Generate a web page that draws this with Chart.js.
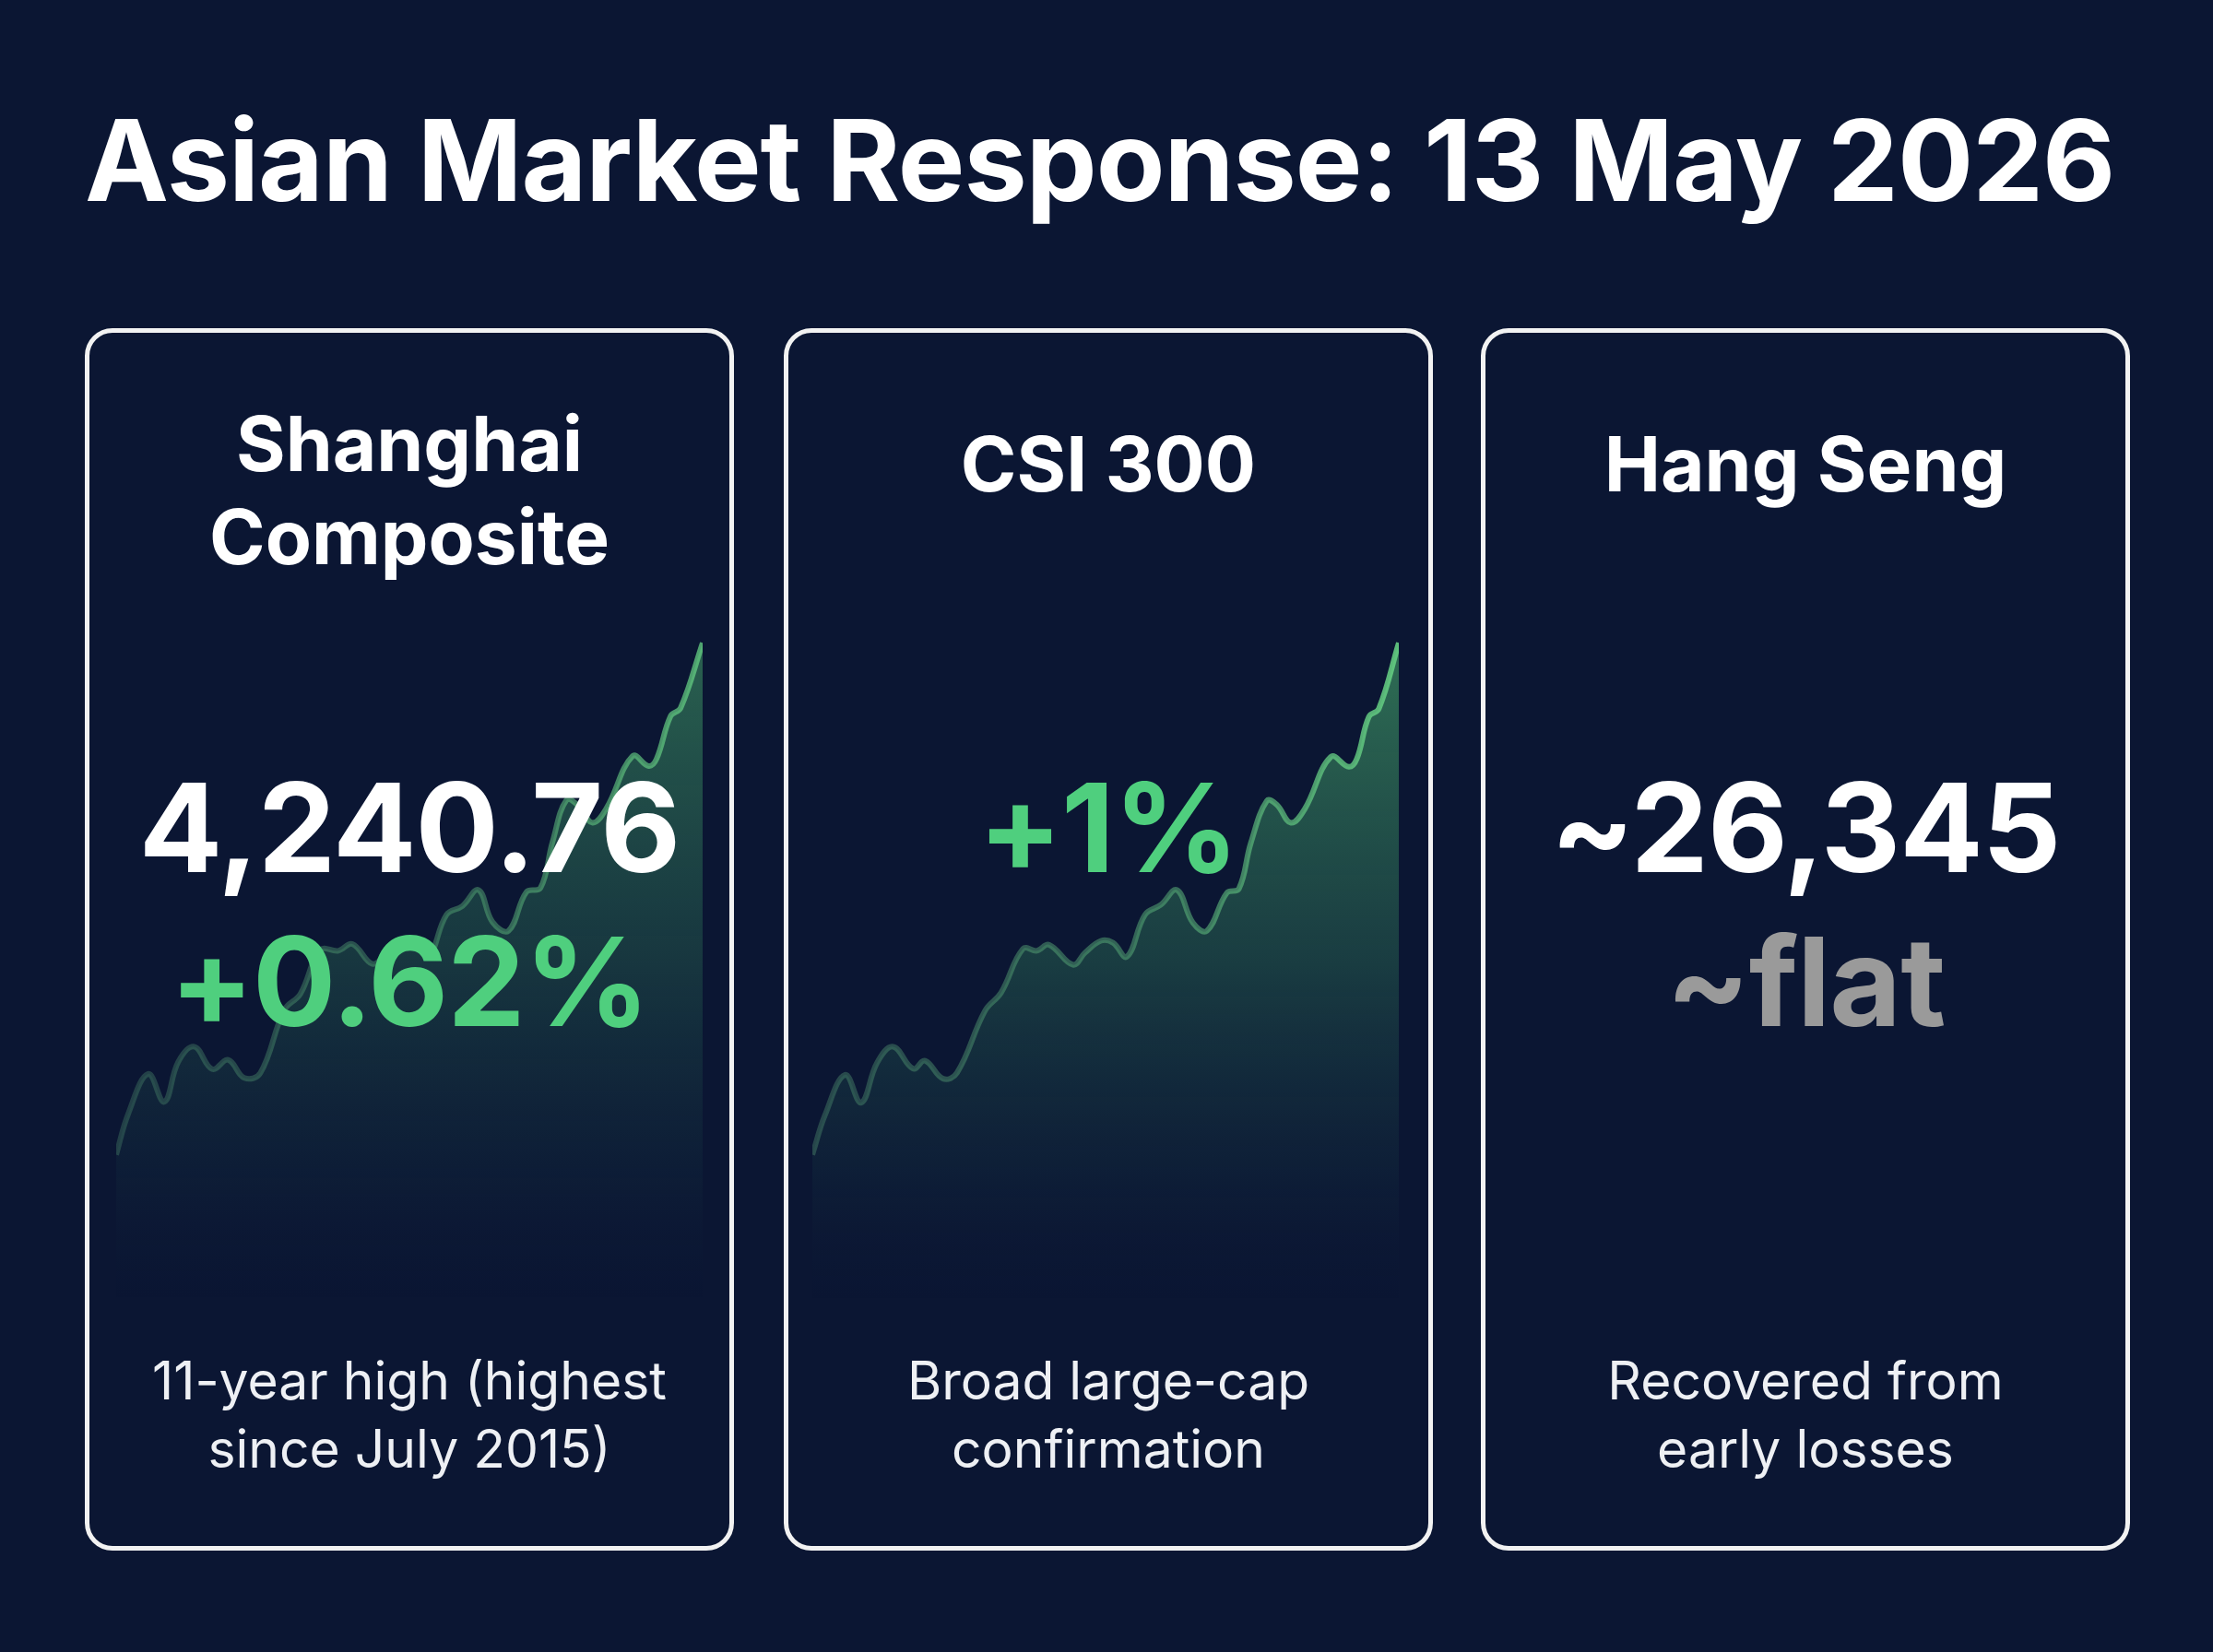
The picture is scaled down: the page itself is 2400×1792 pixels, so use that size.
<!DOCTYPE html>
<html><head><meta charset="utf-8">
<script src="https://cdn.jsdelivr.net/npm/chart.js@4/dist/chart.umd.min.js"></script>
<style>
html,body{margin:0;padding:0;background:#0b1633;}
#root{position:relative;width:2400px;height:1792px;background:#0b1633;font-family:Inter,"Noto Sans",sans-serif;color:#fff;overflow:hidden}
.title{position:absolute;left:92px;top:100px;font-size:122px;font-weight:700;letter-spacing:-1px;white-space:nowrap}
.panel{position:absolute;top:356px;width:704px;height:1326px;border:5px solid #f2f2f2;border-radius:30px;box-sizing:border-box}
.t{position:absolute;width:100%;text-align:center;z-index:2;white-space:nowrap}
.h{font-size:82px;font-weight:700;line-height:101px}
.big{font-size:134px;font-weight:700;letter-spacing:-1px}
.foot{font-size:57px;line-height:74px;font-weight:400;color:#eef0f4}
canvas{position:absolute;z-index:1}
</style></head><body>
<div id="root">
<div class="title">Asian Market Response: 13 May 2026</div>
<div class="panel" style="left:92px">
 <div class="t h" style="top:70px">Shanghai<br>Composite</div>
 <div class="t big" style="top:455px">4,240.76</div>
 <div class="t big" style="top:622px;color:#4fcf7e">+0.62%</div>
 <div class="t foot" style="top:1100px">11-year high (highest<br>since July 2015)</div>
</div>
<div class="panel" style="left:850px">
 <div class="t h" style="top:92px">CSI 300</div>
 <div class="t big" style="top:455px;color:#4fcf7e">+1%</div>
 <div class="t foot" style="top:1100px">Broad large-cap<br>confirmation</div>
</div>
<div class="panel" style="left:1606px">
 <div class="t h" style="top:92px">Hang Seng</div>
 <div class="t big" style="top:455px">~26,345</div>
 <div class="t big" style="top:622px;color:#9a9a9a">~flat</div>
 <div class="t foot" style="top:1100px">Recovered from<br>early losses</div>
</div>
<canvas id="c1" width="636" height="730" style="left:126px;top:680px"></canvas>
<canvas id="c2" width="636" height="730" style="left:881px;top:680px"></canvas>
</div>
<script>
// Shanghai Composite intraday trend (relative units)
const shanghaiX=[60,90,140,180,215,255,300,340,380,420,480,520,570,615,650,700,735,775,805,840,885,925,965,1000,1040,1085,1120,1150,1185,1215,1250,1285,1350,1390,1410,1445,1470,1525];
const shanghaiY=[248,350,450,380,480,518,462,485,440,452,610,650,760,758,775,725,750,782,778,742,848,870,910,830,808,905,915,1030,1135,1120,1078,1115,1245,1220,1238,1345,1365,1528];
// CSI 300 intraday trend (relative units)
const csiX=[48,80,130,170,210,250,300,330,375,410,480,520,575,610,640,700,730,770,800,835,880,920,960,1000,1035,1085,1115,1145,1185,1210,1245,1280,1345,1390,1410,1440,1465,1515];
const csiY=[248,348,448,378,478,518,463,483,438,453,608,653,763,758,773,723,753,783,778,743,848,873,910,828,808,903,913,1028,1133,1123,1078,1113,1243,1218,1238,1343,1363,1528];

function make(id,xs,ys,alpha){
  const ctx=document.getElementById(id).getContext('2d');
  const W=636,H=730;
  const fill=ctx.createLinearGradient(0,0,0,H);
  fill.addColorStop(0,'rgba(80,190,115,'+(0.55*alpha)+')');
  fill.addColorStop(0.5,'rgba(60,150,100,'+(0.30*alpha)+')');
  fill.addColorStop(0.8,'rgba(40,100,90,'+(0.12*alpha)+')');
  fill.addColorStop(1,'rgba(20,40,70,0)');
  const stroke=ctx.createLinearGradient(0,0,W,0);
  stroke.addColorStop(0,'rgba(90,160,120,'+(0.35*alpha)+')');
  stroke.addColorStop(0.6,'rgba(95,185,125,'+(0.5*alpha)+')');
  stroke.addColorStop(1,'rgba(100,205,130,'+(0.9*alpha)+')');
  new Chart(ctx,{type:'line',
    data:{datasets:[{data:xs.map((x,i)=>({x:x,y:ys[i]})),borderColor:stroke,backgroundColor:fill,fill:'start',borderWidth:6,pointRadius:0,tension:0.4}]},
    options:{responsive:false,animation:false,devicePixelRatio:1,
      layout:{padding:0},
      plugins:{legend:{display:false},tooltip:{enabled:false}},
      scales:{x:{type:'linear',min:xs[0],max:xs[xs.length-1],display:false},
              y:{min:-115,max:1568,display:false}}}});
}
make('c1',shanghaiX,shanghaiY,0.85);
make('c2',csiX,csiY,1);
</script>
</body></html>
